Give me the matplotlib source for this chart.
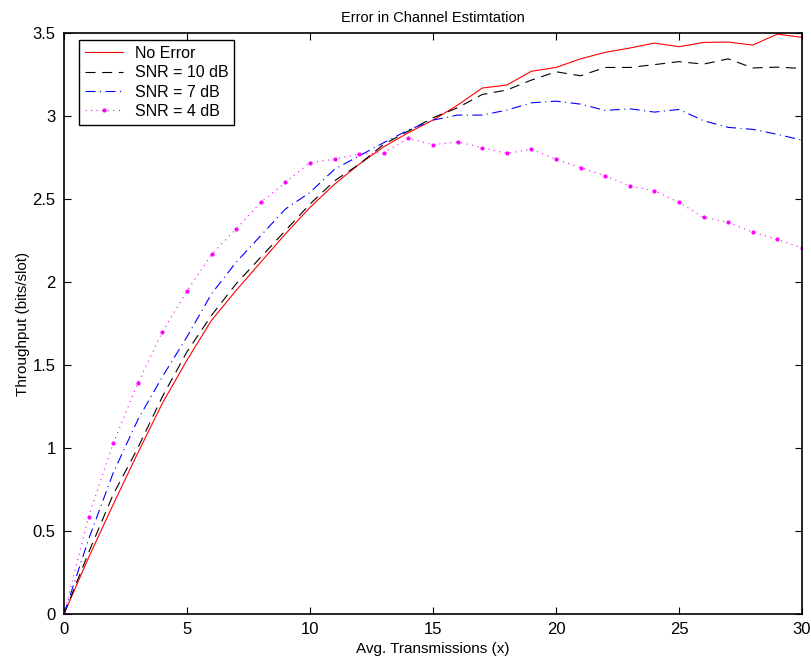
import numpy as np
import matplotlib.pyplot as plt

plt.rcParams['font.family'] = ['Liberation Sans', 'DejaVu Sans']

x = np.arange(0, 31)

no_error = [0, 0.34, 0.66, 0.97, 1.27, 1.53, 1.77, 1.95, 2.12, 2.29, 2.45,
            2.59, 2.71, 2.815, 2.90, 2.976, 3.066, 3.169, 3.187, 3.27, 3.293,
            3.345, 3.384, 3.41, 3.44, 3.418, 3.444, 3.446, 3.428, 3.494, 3.474]
snr10 = [0, 0.37, 0.72, 1.0, 1.31, 1.58, 1.80, 1.99, 2.15, 2.31, 2.47,
         2.61, 2.71, 2.83, 2.91, 2.99, 3.05, 3.13, 3.157, 3.217, 3.267,
         3.243, 3.293, 3.293, 3.31, 3.328, 3.313, 3.345, 3.29, 3.295, 3.287]
snr7 = [0, 0.45, 0.85, 1.17, 1.43, 1.67, 1.93, 2.12, 2.28, 2.44, 2.54,
        2.68, 2.76, 2.84, 2.916, 2.976, 3.006, 3.006, 3.036, 3.08, 3.09,
        3.072, 3.034, 3.044, 3.024, 3.04, 2.972, 2.932, 2.92, 2.89, 2.855]
snr4 = [0, 0.586, 1.028, 1.39, 1.70, 1.946, 2.167, 2.32, 2.48, 2.60, 2.72,
        2.74, 2.77, 2.78, 2.866, 2.827, 2.845, 2.81, 2.775, 2.80, 2.74,
        2.69, 2.64, 2.58, 2.55, 2.48, 2.39, 2.36, 2.30, 2.257, 2.205]

fig = plt.figure(figsize=(8.12, 6.62), dpi=100)
ax = fig.add_axes([0.0788, 0.0725, 0.9089, 0.8775])

ax.plot(x, no_error, color='red', lw=0.8, ls='-', label='No Error')
ax.plot(x, snr10, color='black', lw=0.8, ls=(0, (9, 6)), label='SNR = 10 dB')
ax.plot(x, snr7, color='blue', lw=0.8, ls=(0, (9, 4, 1, 4)), label='SNR = 7 dB')
ax.plot(x, snr4, color='magenta', lw=0.8, ls=(0, (1, 4)), marker='.',
        markersize=4, label='SNR = 4 dB')

ax.set_xlim(0, 30)
ax.set_ylim(0, 3.5)
ax.set_xticks(np.arange(0, 31, 5))
ax.set_yticks(np.arange(0, 3.51, 0.5))
ax.set_yticklabels(['0', '0.5', '1', '1.5', '2', '2.5', '3', '3.5'])
ax.tick_params(direction='in', top=True, right=True, length=5, width=0.8,
               labelsize=12, pad=6)
for s in ax.spines.values():
    s.set_linewidth(1.2)

ax.set_xlabel('Avg. Transmissions (x)', fontsize=11, labelpad=3)
ax.set_ylabel('Throughput (bits/slot)', fontsize=11, labelpad=2)
ax.set_title('Error in Channel Estimtation', fontsize=10.5, pad=8)

leg = ax.legend(loc='upper left', bbox_to_anchor=(0.021, 0.988),
                borderaxespad=0, fontsize=11.5, fancybox=False, framealpha=1,
                edgecolor='black', handlelength=2.4, labelspacing=0.28,
                borderpad=0.35, handletextpad=0.7)
leg.get_frame().set_linewidth(1.0)

fig.savefig('out.png', dpi=100)
